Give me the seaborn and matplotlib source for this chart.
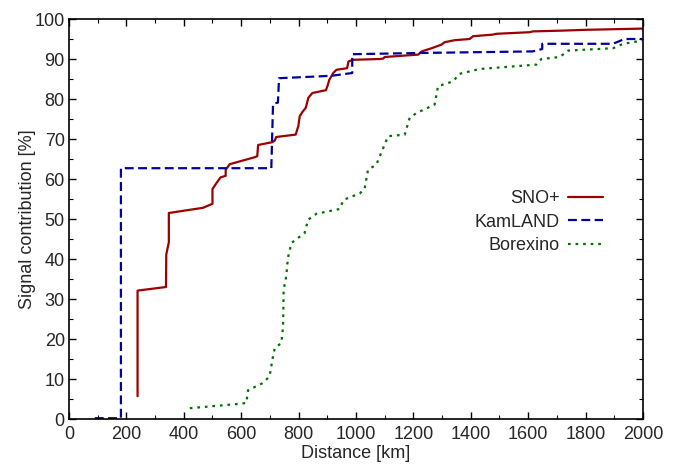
import numpy as np
import pandas as pd
import matplotlib
matplotlib.use("Agg")
import matplotlib.pyplot as plt
import seaborn as sns
from matplotlib.ticker import MultipleLocator

# ---- data ----
sno_dist = [239, 239, 338, 339, 348, 348, 467, 500, 500, 514, 528, 546, 546, 560, 645, 656, 659,
            708, 717, 722, 790, 799, 804, 813, 825, 834, 848, 895, 901, 907, 921, 932, 969, 974,
            990, 1083, 1095, 1100, 1217, 1229, 1264, 1298, 1309, 1344, 1396, 1408, 1477, 1489,
            1605, 1616, 1721, 1802, 1998]
sno_sig = [5.7, 32.1, 33.0, 41.1, 44.2, 51.5, 52.8, 53.8, 57.5, 59.0, 60.4, 60.8, 62.3, 63.7,
           65.4, 65.7, 68.5, 69.2, 69.6, 70.5, 71.1, 73.2, 75.7, 76.7, 77.8, 80.3, 81.5, 82.2,
           83.3, 84.8, 86.5, 87.3, 87.7, 89.4, 89.8, 90.0, 90.1, 90.5, 91.1, 91.9, 92.7, 93.6,
           94.2, 94.7, 95.0, 95.7, 96.1, 96.3, 96.7, 96.9, 97.1, 97.3, 97.6]

kam_dist = [90, 177, 181, 181, 705, 711, 728, 732, 914, 987, 987, 1217, 1616, 1649, 1649, 1895,
            1936, 1998]
kam_sig = [0.2, 0.2, 0.2, 62.7, 62.7, 78.8, 79.1, 85.2, 85.8, 86.5, 91.2, 91.5, 91.9, 92.5,
           93.8, 93.8, 95.0, 95.0]

bor_dist = [421, 595, 618, 624, 676, 699, 711, 717, 740, 746, 748, 757, 763, 775, 821, 833, 862,
            943, 957, 1013, 1030, 1042, 1071, 1112, 1170, 1187, 1211, 1274, 1286, 1338, 1361,
            1431, 1629, 1646, 1710, 1739, 1896, 1931, 1998]
bor_sig = [2.7, 3.8, 4.0, 7.2, 9.0, 10.7, 15.7, 17.7, 19.0, 23.2, 32.3, 35.7, 40.3, 44.0, 46.5,
           49.8, 51.3, 52.5, 54.8, 56.4, 57.5, 62.3, 63.6, 70.7, 71.1, 75.3, 76.5, 78.6, 83.2,
           84.4, 86.3, 87.5, 88.6, 90.0, 90.5, 92.1, 92.7, 93.8, 94.6]

labels = ["SNO+", "KamLAND", "Borexino"]
x_ticks = [0, 200, 400, 600, 800, 1000, 1200, 1400, 1600, 1800, 2000]
y_ticks = [0, 10, 20, 30, 40, 50, 60, 70, 80, 90, 100]

frames = []
for lab, xs, ys in zip(labels, [sno_dist, kam_dist, bor_dist], [sno_sig, kam_sig, bor_sig]):
    frames.append(pd.DataFrame({"Distance": xs, "Signal": ys, "Detector": lab,
                                "order": np.arange(len(xs))}))
df = pd.concat(frames, ignore_index=True)

sns.set_style("ticks")
plt.rcParams['font.family'] = ['Liberation Sans', 'DejaVu Sans']

fig = plt.figure(figsize=(6.89, 4.68), dpi=100)
ax = fig.add_axes([0.1001, 0.1047, 0.8331, 0.8547])

palette = {"SNO+": "#9c0000", "KamLAND": "#0000a0", "Borexino": "#006e00"}
styles = {"SNO+": "-", "KamLAND": (0, (4, 2)), "Borexino": (0, (1.2, 2.2))}

for lab in labels:
    sub = df[df["Detector"] == lab]
    sns.lineplot(data=sub, x="Distance", y="Signal", sort=False, estimator=None,
                 color=palette[lab], linestyle=styles[lab], linewidth=1.6, label=lab, ax=ax)

FS = 13
ax.set_xlim(0, 2000)
ax.set_ylim(0, 100)
ax.set_xticks(x_ticks)
ax.set_yticks(y_ticks)
ax.xaxis.set_minor_locator(MultipleLocator(100))
ax.yaxis.set_minor_locator(MultipleLocator(5))
ax.tick_params(which="both", direction="in", top=True, right=True, labelsize=FS, color="black")
ax.tick_params(which="major", length=5, width=1)
ax.tick_params(axis="x", which="major", pad=5)
ax.tick_params(axis="y", which="major", pad=3)
ax.tick_params(which="minor", length=3, width=0.8)
for s in ax.spines.values():
    s.set_linewidth(1.2)
    s.set_color("black")

ax.set_xlabel("Distance [km]", fontsize=FS, labelpad=1.5)
ax.set_ylabel("Signal contribution [%]", fontsize=FS, labelpad=-1)

leg = ax.legend(loc="upper right", bbox_to_anchor=(0.930, 0.572), frameon=False,
                markerfirst=False, fontsize=FS, handlelength=1.95, handletextpad=0.45,
                labelspacing=0.36, borderpad=0, borderaxespad=0)

fig.savefig("out.png", dpi=100)
